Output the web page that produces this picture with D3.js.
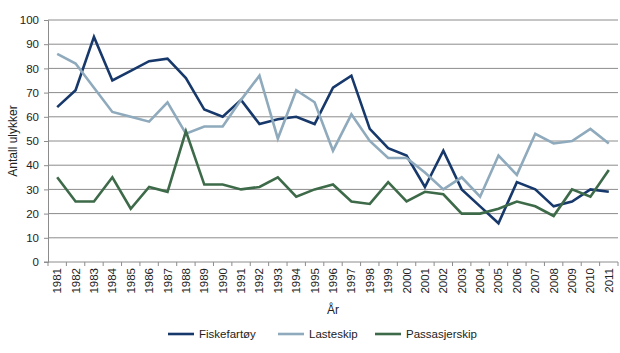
<!DOCTYPE html>
<html>
<head>
<meta charset="utf-8">
<script src="https://cdn.jsdelivr.net/npm/d3@7"></script>
<style>
  body { margin: 0; background: #fff; }
  text { font-family: 'Liberation Sans', Arial, sans-serif; }
</style>
</head>
<body>
<div id="chart"></div>
<script>
const years = d3.range(1981, 2012).map(String)
const fiskefartoy = [64, 71, 93, 75, 79, 83, 84, 76, 63, 60, 67, 57, 59, 60, 57, 72, 77, 55, 47, 44, 31, 46, 30, 23, 16, 33, 30, 23, 25, 30, 29]
const lasteskip = [86, 82, 72, 62, 60, 58, 66, 53, 56, 56, 67, 77, 51, 71, 66, 46, 61, 50, 43, 43, 37, 30, 35, 27, 44, 36, 53, 49, 50, 55, 49]
const passasjerskip = [35, 25, 25, 35, 22, 31, 29, 54, 32, 32, 30, 31, 35, 27, 30, 32, 25, 24, 33, 25, 29, 28, 20, 20, 22, 25, 23, 19, 30, 27, 38]
const yTicks = d3.range(0, 101, 10)

const series = [
  { name: 'Fiskefartøy', values: fiskefartoy, color: '#17386b' },
  { name: 'Lasteskip', values: lasteskip, color: '#8eaabc' },
  { name: 'Passasjerskip', values: passasjerskip, color: '#3d6a48' },
]

const width = 620
const height = 353
const margin = { left: 48, right: 2, top: 20, bottom: 91 }

const svg = d3.select('#chart').append('svg')
  .attr('width', width)
  .attr('height', height)

const x = d3.scaleBand().domain(years).range([margin.left, width - margin.right])
const y = d3.scaleLinear().domain([0, 100]).range([height - margin.bottom, margin.top])

// gridlines
svg.append('g')
  .selectAll('line')
  .data(yTicks.filter((d) => d > 0))
  .join('line')
  .attr('x1', margin.left)
  .attr('x2', width - margin.right)
  .attr('y1', (d) => y(d))
  .attr('y2', (d) => y(d))
  .attr('stroke', '#8c8c8c')
  .attr('stroke-width', 1)

// y axis
const yAxis = svg.append('g')
  .attr('transform', `translate(${margin.left},0)`)
  .call(d3.axisLeft(y).tickValues(yTicks).tickSize(4).tickPadding(5))
yAxis.select('.domain').attr('stroke', '#8c8c8c')
yAxis.selectAll('.tick line').attr('stroke', '#8c8c8c')
yAxis.selectAll('.tick text').attr('font-size', 11.5).attr('fill', '#222')
  .attr('font-family', "'Liberation Sans', Arial, sans-serif")

// x axis: ticks between categories
const xg = svg.append('g').attr('transform', `translate(0,${y(0)})`)
xg.append('line')
  .attr('x1', margin.left - 4).attr('x2', width - margin.right)
  .attr('stroke', '#8c8c8c')
xg.selectAll('.tk')
  .data(years.concat(['end']))
  .join('line')
  .attr('class', 'tk')
  .attr('x1', (d, i) => (i < years.length ? x(d) : x(years[years.length - 1]) + x.bandwidth()))
  .attr('x2', (d, i) => (i < years.length ? x(d) : x(years[years.length - 1]) + x.bandwidth()))
  .attr('y1', 0).attr('y2', 4)
  .attr('stroke', '#8c8c8c')
xg.selectAll('text')
  .data(years)
  .join('text')
  .attr('transform', (d) => `translate(${x(d) + x.bandwidth() / 2 + 4},6) rotate(-90)`)
  .attr('text-anchor', 'end')
  .attr('font-size', 11.5)
  .attr('fill', '#222')
  .text((d) => d)

// axis titles
svg.append('text')
  .attr('transform', `translate(17,${y(50)}) rotate(-90)`)
  .attr('text-anchor', 'middle')
  .attr('font-size', 12)
  .attr('fill', '#222')
  .text('Antall ulykker')
svg.append('text')
  .attr('x', 333)
  .attr('y', 314)
  .attr('text-anchor', 'middle')
  .attr('font-size', 12)
  .attr('fill', '#222')
  .text('År')

// lines
const line = d3.line()
  .x((d, i) => x(years[i]) + x.bandwidth() / 2)
  .y((d) => y(d))

svg.append('g')
  .selectAll('path')
  .data(series)
  .join('path')
  .attr('d', (d) => line(d.values))
  .attr('fill', 'none')
  .attr('stroke', (d) => d.color)
  .attr('stroke-width', 2.6)
  .attr('stroke-linejoin', 'miter')

// legend
const legendX = [168, 278, 375]
const legend = svg.append('g').attr('transform', 'translate(0,334)')
const items = legend.selectAll('g')
  .data(series)
  .join('g')
  .attr('transform', (d, i) => `translate(${legendX[i]},0)`)
items.append('line')
  .attr('x1', 0).attr('x2', 26)
  .attr('stroke', (d) => d.color)
  .attr('stroke-width', 2.6)
items.append('text')
  .attr('x', 31)
  .attr('y', 4)
  .attr('font-size', 11.5)
  .attr('fill', '#222')
  .text((d) => d.name)
</script>
</body>
</html>
